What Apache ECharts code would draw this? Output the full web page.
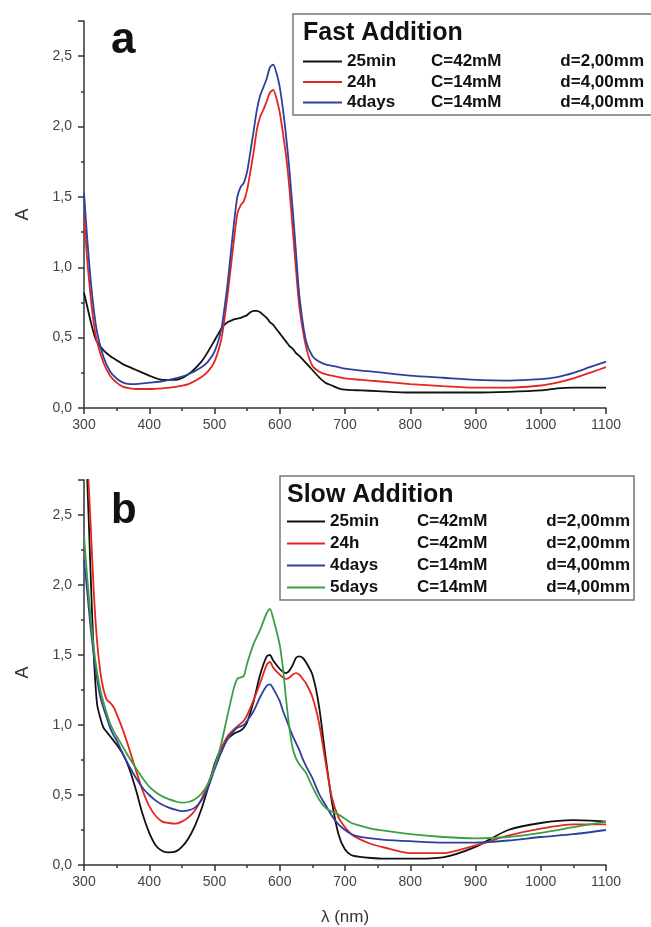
<!DOCTYPE html>
<html>
<head>
<meta charset="utf-8">
<script src="https://cdn.jsdelivr.net/npm/echarts@6/dist/echarts.min.js"></script>
<style>
html,body{margin:0;padding:0;background:#fff;}
#chart{width:651px;height:927px;}
</style>
</head>
<body>
<div id="chart"></div>
<script>
// ---------- Panel a (Fast Addition) ----------
var wlA = [300,305,310,315,320,330,340,350,360,370,380,390,400,420,440,460,480,490,500,510,515,520,525,530,535,540,545,550,555,560,565,570,575,580,585,590,595,600,605,610,615,620,625,630,640,650,660,670,680,690,700,725,750,800,850,900,950,1000,1025,1050,1075,1100];
var a25min = [0.82,0.72,0.62,0.53,0.47,0.41,0.37,0.34,0.31,0.29,0.27,0.25,0.23,0.2,0.2,0.24,0.33,0.4,0.48,0.56,0.59,0.61,0.62,0.63,0.635,0.64,0.65,0.66,0.68,0.69,0.69,0.68,0.66,0.64,0.61,0.59,0.56,0.53,0.5,0.47,0.44,0.42,0.39,0.37,0.32,0.27,0.22,0.18,0.16,0.14,0.13,0.125,0.12,0.11,0.11,0.11,0.115,0.125,0.14,0.145,0.145,0.145];
var a24h = [1.36,1.05,0.8,0.6,0.47,0.32,0.23,0.18,0.15,0.14,0.135,0.135,0.135,0.14,0.15,0.17,0.22,0.26,0.33,0.48,0.62,0.8,1.0,1.2,1.38,1.44,1.47,1.55,1.68,1.82,1.98,2.07,2.12,2.18,2.24,2.26,2.2,2.1,1.95,1.78,1.55,1.26,0.98,0.72,0.44,0.3,0.26,0.24,0.23,0.22,0.21,0.2,0.19,0.17,0.155,0.145,0.145,0.16,0.18,0.21,0.25,0.29];
var a4days = [1.53,1.2,0.92,0.7,0.54,0.36,0.26,0.21,0.18,0.17,0.17,0.175,0.18,0.19,0.21,0.24,0.29,0.33,0.4,0.55,0.7,0.88,1.1,1.32,1.5,1.57,1.6,1.68,1.82,1.97,2.12,2.22,2.28,2.34,2.42,2.44,2.38,2.28,2.12,1.92,1.68,1.4,1.1,0.8,0.48,0.37,0.33,0.31,0.3,0.29,0.28,0.265,0.255,0.23,0.215,0.2,0.195,0.205,0.22,0.25,0.29,0.33];

// ---------- Panel b (Slow Addition) ----------
var wlB = [300,305,310,315,320,325,330,335,340,345,350,360,370,380,390,400,410,420,430,440,450,460,470,480,490,500,510,520,530,535,540,545,550,560,570,580,585,590,600,605,610,615,620,625,630,635,640,650,660,670,680,690,700,710,720,740,760,800,850,900,950,1000,1050,1100];
var b25min = [3.2,2.75,2.1,1.5,1.15,1.05,0.98,0.95,0.92,0.89,0.86,0.79,0.68,0.53,0.36,0.23,0.14,0.1,0.09,0.095,0.13,0.19,0.28,0.4,0.55,0.72,0.83,0.9,0.94,0.95,0.96,0.98,1.02,1.17,1.36,1.49,1.5,1.46,1.4,1.38,1.37,1.39,1.43,1.48,1.49,1.48,1.45,1.36,1.14,0.78,0.45,0.22,0.11,0.07,0.06,0.05,0.045,0.045,0.055,0.13,0.25,0.3,0.32,0.31];
var b24h = [3.2,2.9,2.45,1.95,1.6,1.38,1.25,1.18,1.16,1.13,1.08,0.96,0.82,0.67,0.53,0.42,0.35,0.31,0.3,0.295,0.31,0.34,0.39,0.47,0.58,0.7,0.83,0.92,0.97,0.99,1.01,1.03,1.07,1.18,1.3,1.43,1.45,1.41,1.36,1.34,1.33,1.34,1.36,1.37,1.36,1.33,1.3,1.2,1.02,0.74,0.48,0.34,0.27,0.22,0.19,0.15,0.125,0.085,0.085,0.14,0.21,0.26,0.29,0.29];
var b4days = [2.18,1.95,1.7,1.5,1.33,1.2,1.12,1.05,0.98,0.93,0.89,0.79,0.7,0.62,0.55,0.5,0.46,0.43,0.41,0.395,0.385,0.39,0.41,0.46,0.55,0.68,0.8,0.9,0.96,0.98,0.99,1.0,1.03,1.1,1.2,1.28,1.29,1.26,1.17,1.1,1.04,0.98,0.92,0.87,0.82,0.76,0.71,0.62,0.51,0.43,0.35,0.29,0.25,0.22,0.205,0.19,0.18,0.17,0.16,0.16,0.175,0.2,0.22,0.25];
var b5days = [2.35,2.05,1.78,1.55,1.38,1.25,1.16,1.08,1.01,0.96,0.92,0.84,0.76,0.69,0.62,0.56,0.52,0.49,0.47,0.455,0.445,0.45,0.47,0.51,0.58,0.7,0.86,1.07,1.27,1.33,1.34,1.35,1.44,1.58,1.68,1.8,1.83,1.76,1.57,1.4,1.17,0.97,0.83,0.76,0.72,0.69,0.66,0.56,0.47,0.41,0.38,0.36,0.33,0.3,0.285,0.26,0.245,0.22,0.2,0.19,0.2,0.23,0.27,0.31];

// ---------- Text ----------
var xTicks = [300,400,500,600,700,800,900,1000,1100];
var yTicks = [0,0.5,1.0,1.5,2.0,2.5];
var legendA = {title:'Fast Addition', names:['a25min','a24h','a4days'], labels:['25min','24h','4days'], conc:['C=42mM','C=14mM','C=14mM'], dist:['d=2,00mm','d=4,00mm','d=4,00mm']};
var legendB = {title:'Slow Addition', names:['b25min','b24h','b4days','b5days'], labels:['25min','24h','4days','5days'], conc:['C=42mM','C=42mM','C=14mM','C=14mM'], dist:['d=2,00mm','d=2,00mm','d=4,00mm','d=4,00mm']};

var COLORS = {k:'#111111', r:'#e3261f', b:'#2e3f9e', g:'#3c9f45'};
var FONT = '"Liberation Sans", Arial, sans-serif';

function pairs(x, y){ return x.map(function(v,i){ return [v, y[i]]; }); }
function fmtY(v){ var ok = yTicks.some(function(t){return Math.abs(t-v)<1e-6;}); return ok ? v.toFixed(1).replace('.', ',') : ''; }

function xAxis(idx, withName){
  return {
    type:'value', gridIndex:idx, min:300, max:1100, interval:100,
    name: withName ? 'λ (nm)' : '', nameLocation:'middle', nameGap:44,
    nameTextStyle:{fontFamily:FONT, fontSize:17, color:'#333'},
    axisLine:{onZero:false, lineStyle:{color:'#333', width:1.5}},
    axisTick:{show:true, inside:false, length:6, lineStyle:{color:'#333', width:1.5}},
    minorTick:{show:true, splitNumber:2, length:3, lineStyle:{color:'#333', width:1.5}},
    splitLine:{show:false},
    axisLabel:{fontFamily:FONT, fontSize:14, color:'#444', margin:10,
      formatter:function(v){ return xTicks.indexOf(v) >= 0 ? String(v) : ''; }}
  };
}
function yAxis(idx){
  return {
    type:'value', gridIndex:idx, min:0, max:2.75, interval:0.5,
    name:'A', nameLocation:'middle', nameGap:52, nameRotate:90,
    nameTextStyle:{fontFamily:FONT, fontSize:18, color:'#333'},
    axisLine:{show:true, onZero:false, lineStyle:{color:'#333', width:1.5}},
    axisTick:{show:true, inside:false, length:6, lineStyle:{color:'#333', width:1.5}},
    minorTick:{show:true, splitNumber:2, length:3, lineStyle:{color:'#333', width:1.5}},
    splitLine:{show:false},
    axisLabel:{fontFamily:FONT, fontSize:14, color:'#444', margin:12, showMaxLabel:false, formatter:fmtY}
  };
}
function line(name, x, y, color, xi){
  return {name:name, type:'line', xAxisIndex:xi, yAxisIndex:xi, data:pairs(x,y),
    symbol:'none', smooth:0.25, clip:true,
    lineStyle:{color:color, width:1.8}, itemStyle:{color:color}, z:3};
}
function legend(def, left, top, gap, iconW, nameW){
  return {
    orient:'vertical', left:left, top:top, itemGap:gap, itemWidth:iconW, itemHeight:2,
    icon:'rect', selectedMode:false, padding:0, data:def.names,
    formatter:function(n){ var i = def.names.indexOf(n);
      return '{n|'+def.labels[i]+'}{c|'+def.conc[i]+'}{d|'+def.dist[i]+'}'; },
    textStyle:{fontFamily:FONT, fontSize:17, fontWeight:'bold', color:'#111',
      rich:{
        n:{width:nameW, fontFamily:FONT, fontSize:17, fontWeight:'bold', color:'#111'},
        c:{width:120, fontFamily:FONT, fontSize:17, fontWeight:'bold', color:'#111'},
        d:{width:93, align:'right', fontFamily:FONT, fontSize:17, fontWeight:'bold', color:'#111'}
      }}
  };
}

var chart = echarts.init(document.getElementById('chart'), null, {renderer:'canvas'});
chart.setOption({
  backgroundColor:'#fff',
  animation:false,
  grid:[
    {left:84, top:21, width:522, height:387},
    {left:84, top:480, width:522, height:388}
  ],
  xAxis:[xAxis(0,false), xAxis(1,true)],
  yAxis:[yAxis(0), yAxis(1)],
  legend:[ legend(legendA, 303, 53, 3.5, 39, 84), legend(legendB, 287, 513, 5, 38, 87) ],
  series:[
    line('a25min', wlA, a25min, COLORS.k, 0),
    line('a24h', wlA, a24h, COLORS.r, 0),
    line('a4days', wlA, a4days, COLORS.b, 0),
    line('b25min', wlB, b25min, COLORS.k, 1),
    line('b24h', wlB, b24h, COLORS.r, 1),
    line('b4days', wlB, b4days, COLORS.b, 1),
    line('b5days', wlB, b5days, COLORS.g, 1)
  ],
  graphic:[
    {type:'rect', shape:{x:293, y:14, width:400, height:101}, style:{fill:'none', stroke:'#777', lineWidth:1.5}, z:1},
    {type:'text', x:303, y:33, style:{text:legendA.title, fontFamily:FONT, fontSize:25, fontWeight:'bold', fill:'#111', textVerticalAlign:'middle'}},
    {type:'rect', shape:{x:280, y:476, width:354, height:124}, style:{fill:'none', stroke:'#777', lineWidth:1.5}, z:1},
    {type:'text', x:287, y:495, style:{text:legendB.title, fontFamily:FONT, fontSize:25, fontWeight:'bold', fill:'#111', textVerticalAlign:'middle'}},
    {type:'text', x:111, y:41, style:{text:'a', fontFamily:FONT, fontSize:44, fontWeight:'bold', fill:'#111', textVerticalAlign:'middle'}},
    {type:'text', x:111, y:511, style:{text:'b', fontFamily:FONT, fontSize:42, fontWeight:'bold', fill:'#111', textVerticalAlign:'middle'}}
  ]
});
</script>
</body>
</html>
